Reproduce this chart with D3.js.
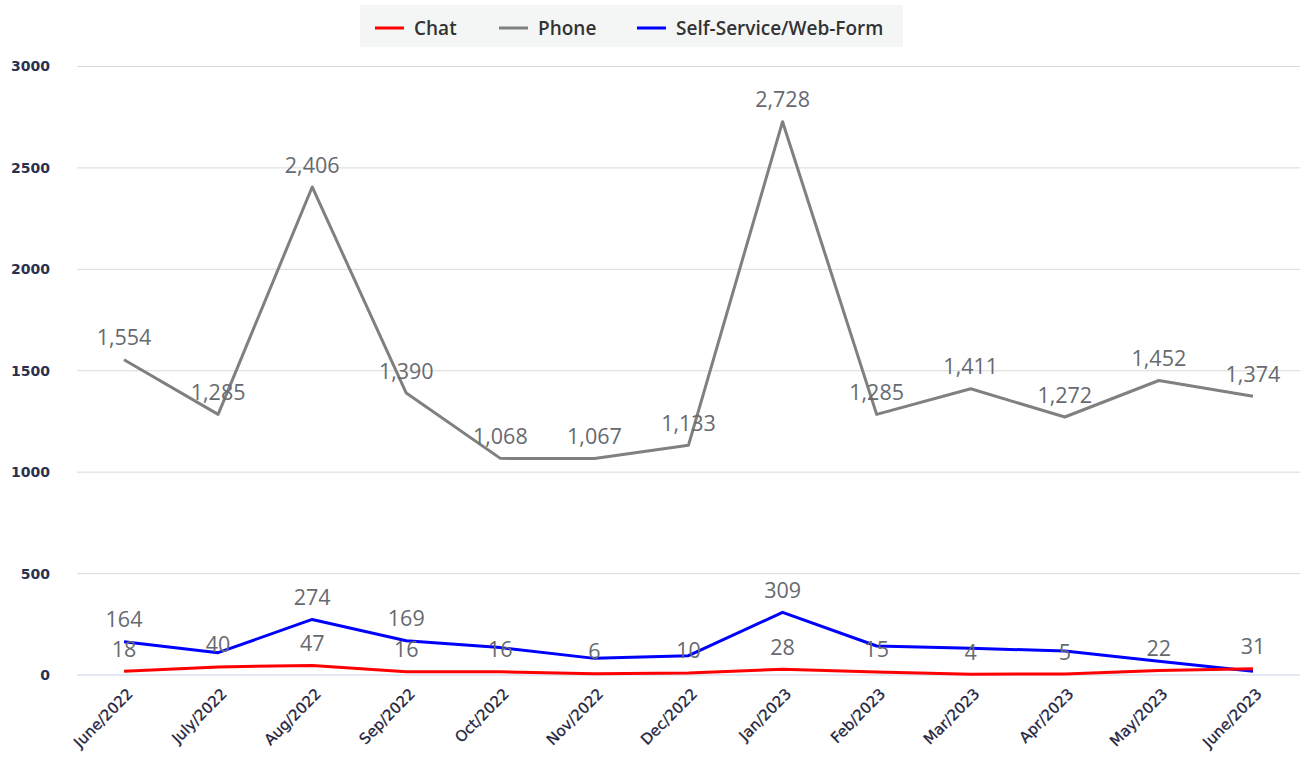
<!DOCTYPE html>
<html><head><meta charset="utf-8">
<script src="https://cdn.jsdelivr.net/npm/d3@7"></script>
<style>body{margin:0;background:#fff;font-family:"Open Sans",sans-serif;}</style>
</head><body><svg id="c" width="1306" height="757"></svg>
<script>
const months = ["June/2022","July/2022","Aug/2022","Sep/2022","Oct/2022","Nov/2022","Dec/2022","Jan/2023","Feb/2023","Mar/2023","Apr/2023","May/2023","June/2023"];
const chat = [18,40,47,16,16,6,10,28,15,4,5,22,31];
const phone = [1554,1285,2406,1390,1068,1067,1133,2728,1285,1411,1272,1452,1374];
const selfService = [164,110,274,169,135,82,95,309,143,132,118,68,18];
const selfServiceLabelShown = [true,false,true,true,false,false,false,true,false,false,false,false,false];
const yTicks = [0,500,1000,1500,2000,2500,3000];
const seriesNames = ["Chat","Phone","Self-Service/Web-Form"];
const seriesColors = ["#ff0000","#808080","#0000ff"];

const svg = d3.select("#c");
const plotLeft = 77, plotRight = 1300, plotTop = 66.5, plotBottom = 675;
const x = d3.scaleBand().domain(months).range([plotLeft, plotRight]);
const cx = m => x(m) + x.bandwidth()/2;
const y = d3.scaleLinear().domain([0,3000]).range([plotBottom, plotTop]);

// grid
svg.append("g").selectAll("line").data(yTicks).join("line")
  .attr("x1", plotLeft).attr("x2", plotRight)
  .attr("y1", d => y(d)).attr("y2", d => y(d))
  .attr("stroke", d => d === 0 ? "#c9d3ea" : "#d9d9d9").attr("stroke-width", 1);

// y axis labels
const yAxis = d3.axisLeft(y).tickValues(yTicks).tickSize(0).tickPadding(0).tickFormat(d3.format("d"));
const gy = svg.append("g").attr("transform", "translate(50,0)").call(yAxis);
gy.select(".domain").remove();
gy.selectAll("text").attr("font-family","DejaVu Sans").attr("font-size", 14).attr("font-weight", "bold").attr("fill", "#2a3050");

// x axis labels
const xAxis = d3.axisBottom(x).tickSize(0).tickPadding(0);
const gx = svg.append("g").attr("transform", `translate(0,${plotBottom})`).call(xAxis);
gx.select(".domain").remove();
gx.selectAll("text")
  .attr("font-family","DejaVu Sans").attr("font-size", 15).attr("fill", "#1f2340")
  .attr("stroke", "#1f2340").attr("stroke-width", 0.3)
  .attr("text-anchor", "end")
  .attr("transform", "translate(6,16) rotate(-45)")
  .attr("dy", "0.35em");

const line = d3.line().x((d,i) => cx(months[i])).y(d => y(d));
const allSeries = [chat, phone, selfService];
[1,2,0].forEach(k => {
  svg.append("path").datum(allSeries[k]).attr("d", line)
    .attr("fill","none").attr("stroke", seriesColors[k]).attr("stroke-width", 3)
    .attr("stroke-linejoin","round");
});

function labels(vals, show) {
  svg.append("g").selectAll("text").data(vals.map((v,i)=>({v,i})).filter(d => !show || show[d.i])).join("text")
    .attr("x", d => cx(months[d.i])).attr("y", d => y(d.v) - 22)
    .attr("dy", "0.35em").attr("text-anchor","middle")
    .attr("font-family","Open Sans").attr("font-size", 21.5).attr("fill", "#666a70")
    .text(d => d3.format(",")(d.v));
}
labels(phone);
labels(selfService, selfServiceLabelShown);
labels(chat);

// legend
const lg = svg.append("g");
lg.append("rect").attr("x", 360).attr("y", 5).attr("width", 543).attr("height", 42).attr("fill", "#f4f6f6");
const legX = [375, 499, 637];
seriesNames.forEach((n,i) => {
  lg.append("line").attr("x1", legX[i]).attr("x2", legX[i]+29).attr("y1", 28).attr("y2", 28)
    .attr("stroke", seriesColors[i]).attr("stroke-width", 3);
  lg.append("text").attr("x", legX[i]+39).attr("y", 28).attr("dy","0.35em")
    .attr("font-family","Open Sans").attr("font-size", 19).attr("font-weight", 600).attr("fill","#333")
    .text(n);
});
</script></body></html>
